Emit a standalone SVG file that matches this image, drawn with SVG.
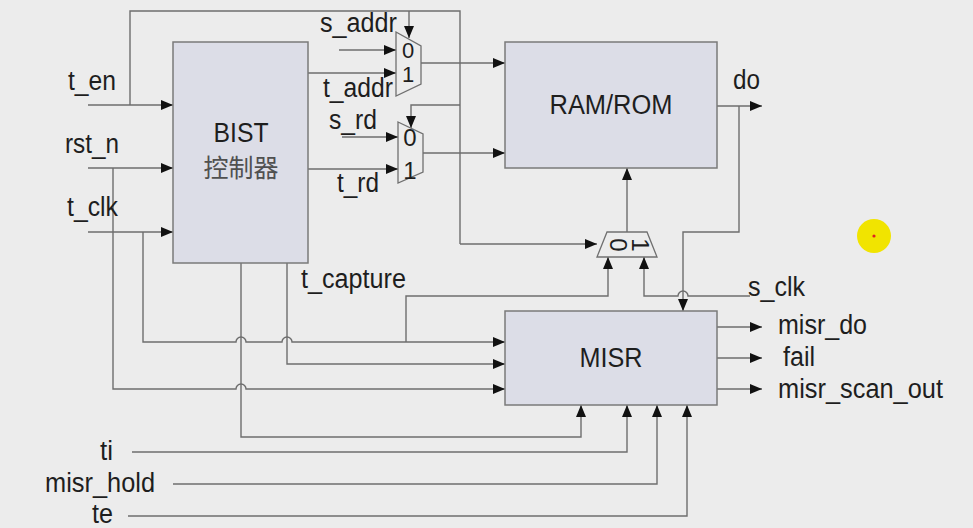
<svg xmlns="http://www.w3.org/2000/svg" width="973" height="528" viewBox="0 0 973 528">
<style>
.bg{fill:#ececec}
.box{fill:#dcdde7;stroke:#7a7a7a;stroke-width:1.5}
.mux{fill:#ececec;stroke:#707070;stroke-width:1.3}
.w{fill:none;stroke:#6e6e6e;stroke-width:1.4}
.a{marker-end:url(#ah)}
text{font-family:"Liberation Sans",Arial,sans-serif;font-size:27px;fill:#1e1e1e}
.cn{font-family:"Liberation Sans","Noto Sans CJK SC",sans-serif;font-size:25px;fill:#505050}
.d{font-size:24px}
.d1{font-size:22px}
</style>
<defs>
<marker id="ah" markerUnits="userSpaceOnUse" markerWidth="12" markerHeight="10" refX="12" refY="5" orient="auto">
<path d="M0,0 L12,5 L0,10 z" fill="#111"/>
</marker>
</defs>
<rect class="bg" x="0" y="0" width="973" height="528"/>

<g id="connectors">
<path class="w a" d="M88,105 H173"/>
<path class="w" d="M130,105 V11 H460 V244"/>
<path class="w a" d="M460,244 H597"/>
<path class="w a" d="M409,11 V38"/>
<path class="w a" d="M460,105 H411 V128"/>
<path class="w a" d="M88,168 H173"/>
<path class="w a" d="M113,168 V389 H236 A5,5 0 0 1 246,389 H505"/>
<path class="w a" d="M88,232 H173"/>
<path class="w a" d="M143,232 V342 H236 A5,5 0 0 1 246,342 H282 A5,5 0 0 1 292,342 H505"/>
<path class="w a" d="M406,342 V296 H608 V257"/>
<path class="w a" d="M241,263 V437 H581 V405"/>
<path class="w a" d="M287,263 V364 H505"/>
<path class="w a" d="M339,50 H396"/>
<path class="w a" d="M308,73 H396"/>
<path class="w a" d="M342,137 H398"/>
<path class="w a" d="M308,169 H398"/>
<path class="w a" d="M421,63 H505"/>
<path class="w a" d="M423,153 H505"/>
<path class="w a" d="M627,232 V168"/>
<path class="w a" d="M750,296 H688 A5,5 0 0 0 678,296 H644 V257"/>
<path class="w a" d="M717,106 H762"/>
<path class="w a" d="M739,106 V232 H683 V311"/>
<path class="w a" d="M717,327 H762"/>
<path class="w a" d="M717,358 H762"/>
<path class="w a" d="M717,389 H762"/>
<path class="w a" d="M132,452 H627 V405"/>
<path class="w a" d="M173,484 H657 V405"/>
<path class="w a" d="M128,516 H687 V405"/>
</g>

<g id="bist">
<rect class="box" x="173" y="42" width="135" height="221"/>
<text x="241" y="142" text-anchor="middle" textLength="55" lengthAdjust="spacingAndGlyphs">BIST</text>
<text class="cn" x="241" y="177" text-anchor="middle">控制器</text>
</g>

<g id="ramrom">
<rect class="box" x="505" y="42" width="212" height="126"/>
<text x="611" y="114" text-anchor="middle" textLength="123" lengthAdjust="spacingAndGlyphs">RAM/ROM</text>
</g>

<g id="misr">
<rect class="box" x="505" y="311" width="212" height="94"/>
<text x="611" y="367" text-anchor="middle" textLength="63" lengthAdjust="spacingAndGlyphs">MISR</text>
</g>

<g id="mux_addr">
<polygon class="mux" points="396,32 421,46 421,84 396,96"/>
<text class="d1" x="408" y="58" text-anchor="middle">0</text>
<text class="d1" x="408" y="82" text-anchor="middle">1</text>
</g>

<g id="mux_rd">
<polygon class="mux" points="398,122 423,134 423,172 398,183"/>
<text class="d" x="410" y="146" text-anchor="middle">0</text>
<text class="d" x="410" y="179" text-anchor="middle">1</text>
</g>

<g id="mux_clk">
<polygon class="mux" points="607,232 647,232 657,257 597,257"/>
<text class="d" transform="translate(618,245) rotate(90)" x="0" y="8" text-anchor="middle">0</text>
<text class="d" transform="translate(640,245) rotate(90)" x="0" y="8" text-anchor="middle">1</text>
</g>

<g id="labels">
<text x="68" y="90" textLength="48" lengthAdjust="spacingAndGlyphs">t_en</text>
<text x="65" y="153" textLength="54" lengthAdjust="spacingAndGlyphs">rst_n</text>
<text x="67" y="216" textLength="51" lengthAdjust="spacingAndGlyphs">t_clk</text>
<text x="320" y="32" textLength="77" lengthAdjust="spacingAndGlyphs">s_addr</text>
<text x="323" y="97" textLength="70" lengthAdjust="spacingAndGlyphs">t_addr</text>
<text x="329" y="129" textLength="48" lengthAdjust="spacingAndGlyphs">s_rd</text>
<text x="337" y="192" textLength="42" lengthAdjust="spacingAndGlyphs">t_rd</text>
<text x="733" y="89" textLength="27" lengthAdjust="spacingAndGlyphs">do</text>
<text x="301" y="288" textLength="105" lengthAdjust="spacingAndGlyphs">t_capture</text>
<text x="748" y="296" textLength="57" lengthAdjust="spacingAndGlyphs">s_clk</text>
<text x="778" y="334" textLength="89" lengthAdjust="spacingAndGlyphs">misr_do</text>
<text x="783" y="366" textLength="32" lengthAdjust="spacingAndGlyphs">fail</text>
<text x="778" y="398" textLength="165" lengthAdjust="spacingAndGlyphs">misr_scan_out</text>
<text x="100" y="460" textLength="13" lengthAdjust="spacingAndGlyphs">ti</text>
<text x="45" y="492" textLength="110" lengthAdjust="spacingAndGlyphs">misr_hold</text>
<text x="92" y="523" textLength="21" lengthAdjust="spacingAndGlyphs">te</text>
</g>

<g id="cursor">
<circle cx="874" cy="236" r="17" fill="#f1e400"/>
<circle cx="874" cy="236" r="1.6" fill="#e02020"/>
</g>
</svg>
